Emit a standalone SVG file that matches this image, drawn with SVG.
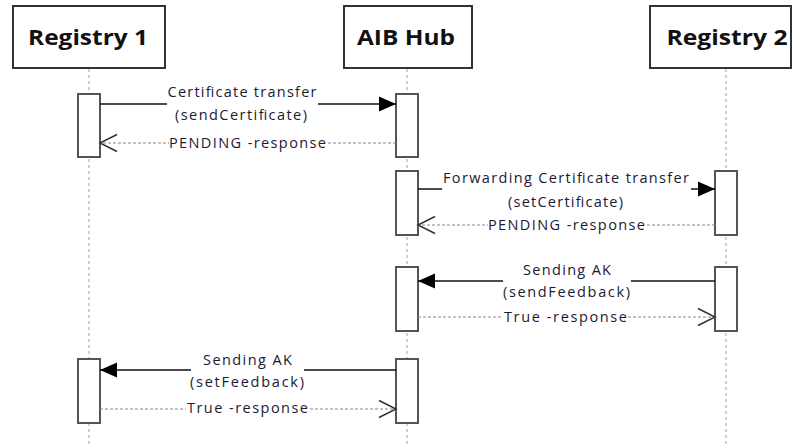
<svg xmlns="http://www.w3.org/2000/svg" width="793" height="445" viewBox="0 0 793 445">
<style>
.hdr{fill:#fff;stroke:#333;stroke-width:2}
.title{font-family:"Open Sans","Liberation Sans",sans-serif;font-weight:bold;font-size:22px;fill:#111;text-anchor:middle}
.life{stroke:#a0a0a0;stroke-width:1;stroke-dasharray:3,3;fill:none}
.act{fill:#fff;stroke:#555;stroke-width:2}
.msg{stroke:#111;stroke-width:1.5;fill:none}
.ret{stroke:#888;stroke-width:1;stroke-dasharray:3,2;fill:none}
.lbl{font-family:"Open Sans","Liberation Sans",sans-serif;font-size:14.5px;fill:#1a1a33;text-anchor:middle}
.bg{fill:#fff;stroke:none}
</style>
<defs>
<marker id="filled" markerUnits="userSpaceOnUse" markerWidth="18" markerHeight="16" refX="17" refY="7.5" orient="auto" overflow="visible">
<path d="M0,0 L17,7.5 L0,15 z" fill="#000"/>
</marker>
<marker id="open" markerUnits="userSpaceOnUse" markerWidth="18" markerHeight="18" refX="17" refY="8.5" orient="auto" overflow="visible">
<path d="M0,0 L17,8.5 L0,17" fill="none" stroke="#333" stroke-width="1.5"/>
</marker>
</defs>
<rect width="793" height="445" fill="#fff"/>

<g id="registry1">
<line class="life" x1="89" y1="69" x2="89" y2="445"/>
<rect class="hdr" x="13" y="6" width="152" height="62"/>
<text class="title" x="88" y="45" textLength="120" lengthAdjust="spacingAndGlyphs">Registry 1</text>
<rect class="act" x="78" y="94" width="22" height="63"/>
<rect class="act" x="78" y="359" width="22" height="64"/>
</g>

<g id="aibhub">
<line class="life" x1="407" y1="69" x2="407" y2="445"/>
<rect class="hdr" x="344" y="6" width="128" height="62"/>
<text class="title" x="406" y="45" textLength="98" lengthAdjust="spacingAndGlyphs">AIB Hub</text>
<rect class="act" x="396" y="94" width="22" height="63"/>
<rect class="act" x="396" y="171" width="22" height="64"/>
<rect class="act" x="396" y="267" width="22" height="64"/>
<rect class="act" x="396" y="359" width="22" height="64"/>
</g>

<g id="registry2">
<line class="life" x1="726" y1="69" x2="726" y2="445"/>
<rect class="hdr" x="650" y="6" width="141" height="62"/>
<text class="title" x="727" y="45" textLength="121" lengthAdjust="spacingAndGlyphs">Registry 2</text>
<rect class="act" x="715" y="171" width="22" height="64"/>
<rect class="act" x="715" y="267" width="22" height="64"/>
</g>

<g id="connectors">
<!-- 1 -->
<line class="msg" x1="100" y1="104" x2="396" y2="104" marker-end="url(#filled)"/>
<rect class="bg" x="167" y="86" width="151" height="38"/>
<text class="lbl" x="242" y="97" textLength="149" lengthAdjust="spacing">Certificate transfer</text>
<text class="lbl" x="241" y="120" textLength="132" lengthAdjust="spacing">(sendCertificate)</text>
<line class="ret" x1="396" y1="143" x2="100" y2="143" marker-end="url(#open)"/>
<rect class="bg" x="169" y="137" width="157" height="14"/>
<text class="lbl" x="247.5" y="147.5" textLength="157" lengthAdjust="spacing">PENDING -response</text>
<!-- 2 -->
<line class="msg" x1="418" y1="189" x2="715" y2="189" marker-end="url(#filled)"/>
<rect class="bg" x="442" y="172" width="249" height="39"/>
<text class="lbl" x="566" y="183" textLength="246" lengthAdjust="spacing">Forwarding Certificate transfer</text>
<text class="lbl" x="565.5" y="207" textLength="115" lengthAdjust="spacing">(setCertificate)</text>
<line class="ret" x1="715" y1="225" x2="418" y2="225" marker-end="url(#open)"/>
<rect class="bg" x="488" y="219" width="157" height="14"/>
<text class="lbl" x="566.5" y="229.5" textLength="157" lengthAdjust="spacing">PENDING -response</text>
<!-- 3 -->
<line class="msg" x1="715" y1="281" x2="418" y2="281" marker-end="url(#filled)"/>
<rect class="bg" x="503" y="264" width="128" height="37"/>
<text class="lbl" x="567" y="275" textLength="88" lengthAdjust="spacing">Sending AK</text>
<text class="lbl" x="566.5" y="297" textLength="127" lengthAdjust="spacing">(sendFeedback)</text>
<line class="ret" x1="418" y1="317" x2="715" y2="317" marker-end="url(#open)"/>
<rect class="bg" x="503" y="311" width="125" height="14"/>
<text class="lbl" x="565.5" y="322" textLength="123" lengthAdjust="spacing">True -response</text>
<!-- 4 -->
<line class="msg" x1="396" y1="370" x2="100" y2="370" marker-end="url(#filled)"/>
<rect class="bg" x="191" y="353" width="113" height="38"/>
<text class="lbl" x="247.5" y="365" textLength="89" lengthAdjust="spacing">Sending AK</text>
<text class="lbl" x="247" y="387" textLength="114" lengthAdjust="spacing">(setFeedback)</text>
<line class="ret" x1="100" y1="409" x2="396" y2="409" marker-end="url(#open)"/>
<rect class="bg" x="186" y="402" width="123" height="14"/>
<text class="lbl" x="247.5" y="413" textLength="121" lengthAdjust="spacing">True -response</text>
</g>
</svg>
